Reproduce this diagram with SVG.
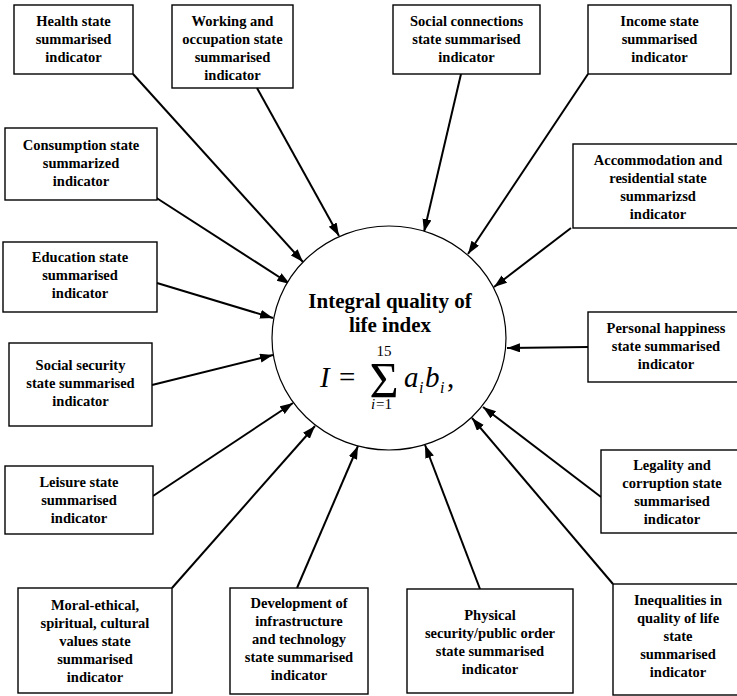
<svg xmlns="http://www.w3.org/2000/svg" width="737" height="696" viewBox="0 0 737 696">
<defs>
<marker id="ah" markerUnits="userSpaceOnUse" markerWidth="14" markerHeight="10" refX="13" refY="4.5" orient="auto">
<path d="M0,0 L13,4.5 L0,9 z" fill="#000"/>
</marker>
<style>
.box{fill:#fff;stroke:#000;stroke-width:1.4}
.t{font-family:"Liberation Serif","Times New Roman",serif;font-weight:bold;font-size:14.5px;text-anchor:middle;fill:#000}
.c{stroke:#000;stroke-width:2;fill:none;marker-end:url(#ah)}
.m{font-family:"Liberation Serif","Times New Roman",serif;font-style:italic;fill:#000}
.r{font-family:"Liberation Serif","Times New Roman",serif;fill:#000}
</style>
</defs>
<rect width="737" height="696" fill="#fff"/>

<g id="connectors">
<line class="c" x1="133" y1="74" x2="303" y2="262"/>
<line class="c" x1="257" y1="88" x2="339" y2="236"/>
<line class="c" x1="461" y1="74" x2="424" y2="232"/>
<line class="c" x1="588" y1="74" x2="468" y2="254"/>
<line class="c" x1="571" y1="228" x2="494" y2="287"/>
<line class="c" x1="588" y1="347" x2="507" y2="348"/>
<line class="c" x1="155" y1="197" x2="290" y2="284"/>
<line class="c" x1="157" y1="283" x2="273" y2="318"/>
<line class="c" x1="152" y1="385" x2="273" y2="355"/>
<line class="c" x1="153" y1="496" x2="293" y2="403"/>
<line class="c" x1="172" y1="588" x2="315" y2="426"/>
<line class="c" x1="297" y1="588" x2="358" y2="446"/>
<line class="c" x1="480" y1="589" x2="425" y2="445"/>
<line class="c" x1="601" y1="497" x2="483" y2="407"/>
<line class="c" x1="613" y1="584" x2="472" y2="418"/>
</g>

<g id="center">
<ellipse cx="389" cy="338" rx="117" ry="112" fill="#fff" stroke="#000" stroke-width="1.2"/>
<text class="t" x="390" y="308" style="font-size:21px">Integral quality of</text>
<text class="t" x="390" y="332" style="font-size:21px">life index</text>
<text class="m" x="320" y="387" font-size="29">I</text>
<text class="r" x="339" y="387" font-size="29">=</text>
<text class="r" x="384" y="397" font-size="50" text-anchor="middle">Σ</text>
<text class="r" x="384" y="356" font-size="15" text-anchor="middle">15</text>
<text class="m" x="371" y="409" font-size="15">i</text>
<text class="r" x="376" y="409" font-size="15">=1</text>
<text class="m" x="404" y="387" font-size="29">a</text>
<text class="m" x="419" y="393" font-size="16">i</text>
<text class="m" x="425" y="387" font-size="29">b</text>
<text class="m" x="440" y="393" font-size="16">i</text>
<text class="r" x="447" y="387" font-size="29">,</text>
</g>

<g id="health"><rect class="box" x="14" y="5" width="119" height="69"/>
<text class="t" x="73.5" y="26">Health state</text><text class="t" x="73.5" y="44">summarised</text><text class="t" x="73.5" y="62">indicator</text></g>

<g id="working"><rect class="box" x="172" y="5" width="121" height="83"/>
<text class="t" x="232.5" y="26">Working and</text><text class="t" x="232.5" y="44">occupation state</text><text class="t" x="232.5" y="62">summarised</text><text class="t" x="232.5" y="80">indicator</text></g>

<g id="social-connections"><rect class="box" x="393" y="5" width="147" height="69"/>
<text class="t" x="466.5" y="26">Social connections</text><text class="t" x="466.5" y="44">state summarised</text><text class="t" x="466.5" y="62">indicator</text></g>

<g id="income"><rect class="box" x="588" y="5" width="143" height="69"/>
<text class="t" x="659.5" y="26">Income state</text><text class="t" x="659.5" y="44">summarised</text><text class="t" x="659.5" y="62">indicator</text></g>

<g id="consumption"><rect class="box" x="5" y="128" width="152" height="72"/>
<text class="t" x="81" y="150">Consumption state</text><text class="t" x="81" y="168">summarized</text><text class="t" x="81" y="186">indicator</text></g>

<g id="accommodation"><rect class="box" x="573" y="144" width="170" height="84"/>
<text class="t" x="658" y="165">Accommodation and</text><text class="t" x="658" y="183">residential state</text><text class="t" x="658" y="201">summarizsd</text><text class="t" x="658" y="219">indicator</text></g>

<g id="education"><rect class="box" x="3" y="242" width="154" height="70"/>
<text class="t" x="80" y="262">Education state</text><text class="t" x="80" y="280">summarised</text><text class="t" x="80" y="298">indicator</text></g>

<g id="personal-happiness"><rect class="box" x="588" y="312" width="157" height="70"/>
<text class="t" x="666" y="333">Personal happiness</text><text class="t" x="666" y="351">state summarised</text><text class="t" x="666" y="369">indicator</text></g>

<g id="social-security"><rect class="box" x="9" y="343" width="143" height="83"/>
<text class="t" x="80.5" y="370">Social security</text><text class="t" x="80.5" y="388">state summarised</text><text class="t" x="80.5" y="406">indicator</text></g>

<g id="leisure"><rect class="box" x="5" y="466" width="148" height="68"/>
<text class="t" x="79" y="487">Leisure state</text><text class="t" x="79" y="505">summarised</text><text class="t" x="79" y="523">indicator</text></g>

<g id="legality"><rect class="box" x="601" y="450" width="143" height="83"/>
<text class="t" x="672" y="470">Legality and</text><text class="t" x="672" y="488">corruption state</text><text class="t" x="672" y="506">summarised</text><text class="t" x="672" y="524">indicator</text></g>

<g id="moral"><rect class="box" x="18" y="588" width="154" height="105"/>
<text class="t" x="95" y="610">Moral-ethical,</text><text class="t" x="95" y="628">spiritual, cultural</text><text class="t" x="95" y="646">values state</text><text class="t" x="95" y="664">summarised</text><text class="t" x="95" y="682">indicator</text></g>

<g id="development"><rect class="box" x="230" y="588" width="138" height="106"/>
<text class="t" x="299" y="608">Development of</text><text class="t" x="299" y="626">infrastructure</text><text class="t" x="299" y="644">and technology</text><text class="t" x="299" y="662">state summarised</text><text class="t" x="299" y="680">indicator</text></g>

<g id="physical"><rect class="box" x="407" y="589" width="166" height="104"/>
<text class="t" x="490" y="620">Physical</text><text class="t" x="490" y="638">security/public order</text><text class="t" x="490" y="656">state summarised</text><text class="t" x="490" y="674">indicator</text></g>

<g id="inequalities"><rect class="box" x="613" y="584" width="131" height="111"/>
<text class="t" x="678" y="605">Inequalities in</text><text class="t" x="678" y="623">quality of life</text><text class="t" x="678" y="641">state</text><text class="t" x="678" y="659">summarised</text><text class="t" x="678" y="677">indicator</text></g>
</svg>
